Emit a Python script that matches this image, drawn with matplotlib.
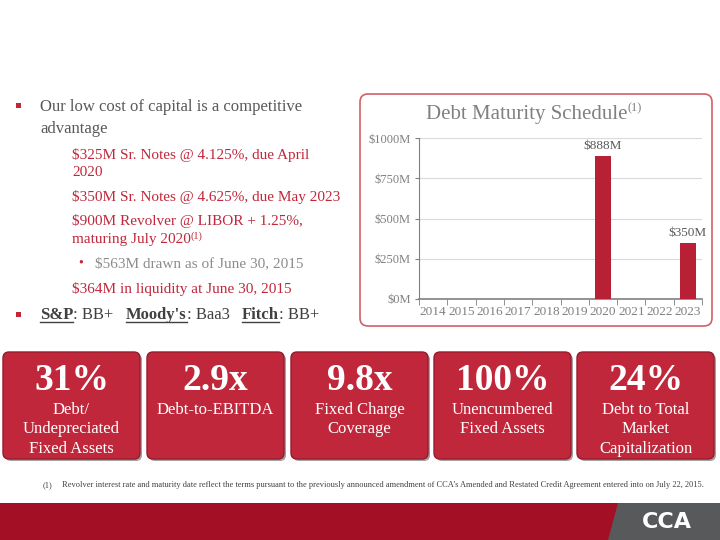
import matplotlib
matplotlib.use('Agg')
import matplotlib.pyplot as plt
from matplotlib.patches import Rectangle, FancyBboxPatch, Polygon
from matplotlib.lines import Line2D

plt.rcParams['font.family'] = ['Liberation Serif', 'DejaVu Serif']

# chart data
years = ['2014', '2015', '2016', '2017', '2018', '2019', '2020', '2021', '2022', '2023']
maturities = [0, 0, 0, 0, 0, 0, 888, 0, 0, 350]
y_ticks = [0, 250, 500, 750, 1000]

# metric boxes
box_values = ['31%', '2.9x', '9.8x', '100%', '24%']
box_labels = ['Debt/\nUndepreciated\nFixed Assets', 'Debt-to-EBITDA', 'Fixed Charge\nCoverage',
              'Unencumbered\nFixed Assets', 'Debt to Total\nMarket\nCapitalization']

RED = '#C0273B'
TXT_RED = '#C0273B'
GRAY = '#595959'

fig = plt.figure(figsize=(7.2, 5.4), dpi=100)
bg = fig.add_axes([0, 0, 1, 1])
bg.set_xlim(0, 720)
bg.set_ylim(540, 0)
bg.axis('off')

# bullets on the left
def square(x, y):
    bg.add_patch(Rectangle((x - 2.5, y - 2.5), 5, 5, color=RED, lw=0))

square(18, 105)
bg.text(40, 107, 'Our low cost of capital is a competitive', fontsize=12, color=GRAY, va='center')
bg.text(40, 129, 'advantage', fontsize=12, color=GRAY, va='center')
bg.text(72, 155, '$325M Sr. Notes @ 4.125%, due April', fontsize=11, color=TXT_RED, va='center')
bg.text(72, 172, '2020', fontsize=11, color=TXT_RED, va='center')
bg.text(72, 197, '$350M Sr. Notes @ 4.625%, due May 2023', fontsize=11, color=TXT_RED, va='center')
bg.text(72, 221, '$900M Revolver @ LIBOR + 1.25%,', fontsize=11, color=TXT_RED, va='center')
t = bg.text(72, 239, 'maturing July 2020', fontsize=11, color=TXT_RED, va='center')
bg.annotate('(1)', xy=(1, 0.75), xycoords=t, fontsize=7.5, color=TXT_RED, va='center', ha='left')
bg.text(78, 263, '\u2022', fontsize=10, color=RED, va='center')
bg.text(95, 264, '$563M drawn as of June 30, 2015', fontsize=11, color='#8C8C8C', va='center')
bg.text(72, 289, '$364M in liquidity at June 30, 2015', fontsize=11, color=TXT_RED, va='center')

square(18, 314)
parts = [('S&P', 'bold', True), (': BB+   ', 'normal', False), ("Moody's", 'bold', True),
         (': Baa3   ', 'normal', False), ('Fitch', 'bold', True), (': BB+', 'normal', False)]
prev = None
under = []
for s, w, u in parts:
    if prev is None:
        prev = bg.text(40, 315, s, fontsize=12, color='#404040', weight=w, va='center')
    else:
        prev = bg.annotate(s, xy=(1, 0), xycoords=prev, fontsize=12, color='#404040',
                           weight=w, va='bottom', ha='left')
    if u:
        under.append(prev)

# chart panel
bg.add_patch(FancyBboxPatch((360, 94), 352, 232, boxstyle='round,pad=0,rounding_size=8',
                            fc='white', ec='#D0606A', lw=1.2))
t = bg.text(527, 114, 'Debt Maturity Schedule', fontsize=15, color='#808080', ha='center', va='center')
bg.annotate('(1)', xy=(1, 0.8), xycoords=t, fontsize=9, color='#808080', va='center', ha='left')

# metric boxes
box_x = [3, 147, 291, 434, 577]
box_w = 137
for x, v, lab in zip(box_x, box_values, box_labels):
    bg.add_patch(FancyBboxPatch((x + 2, 354), box_w, 107, boxstyle='round,pad=0,rounding_size=6',
                                fc='#555555', ec='none', alpha=0.55))
    bg.add_patch(FancyBboxPatch((x, 352), box_w, 107, boxstyle='round,pad=0,rounding_size=6',
                                fc=RED, ec='#9A1A2B', lw=1))
    bg.text(x + box_w / 2, 380, v, fontsize=27, weight='bold', color='white', ha='center', va='center')
    bg.text(x + box_w / 2, 402, lab, fontsize=12, color='white', ha='center', va='top', linespacing=1.28)

# footnote
bg.text(43, 485, '(1)', fontsize=6, color='#404040', va='center')
bg.text(62, 485, "Revolver interest rate and maturity date reflect the terms pursuant to the previously announced "
        "amendment of CCA\u2019s Amended and Restated Credit Agreement entered into on July 22, 2015.",
        fontsize=6, color='#404040', va='center')

# bottom band
bg.add_patch(Rectangle((0, 503), 720, 37, color='#A30F25', lw=0))
bg.add_patch(Polygon([(618, 503), (720, 503), (720, 540), (608, 540)], closed=True, color='#58595B', lw=0))
bg.text(667, 522, 'CCA', fontsize=16, weight='black', color='white', ha='center', va='center',
        family='DejaVu Sans')

# bar chart
ax = fig.add_axes([419 / 720, 1 - 299 / 540, 283 / 720, 161 / 540])
ax.set_facecolor('none')
xs = list(range(len(years)))
ax.bar(xs, maturities, width=0.55, color='#B82035', zorder=3)
for x, v in zip(xs, maturities):
    if v > 0:
        ax.text(x, v + 25, f'${v}M', ha='center', va='bottom', fontsize=9.5, color='#595959')
ax.set_xlim(-0.5, len(years) - 0.5)
ax.set_ylim(0, 1000)
ax.set_yticks(y_ticks)
ax.set_yticklabels([f'${v}M' for v in y_ticks])
ax.set_xticks(xs)
ax.set_xticklabels(years)
ax.set_xticks([i - 0.5 for i in range(len(years) + 1)], minor=True)
ax.tick_params(axis='x', which='major', length=0, labelsize=9.5, labelcolor='#808080', pad=5)
ax.tick_params(axis='x', which='minor', length=4, direction='out', color='#808080')
ax.tick_params(axis='y', length=3, labelsize=9, labelcolor='#808080', color='#808080', pad=3)
ax.yaxis.grid(True, color='#D9D9D9', lw=0.8, zorder=0)
for s in ['top', 'right']:
    ax.spines[s].set_visible(False)
ax.spines['left'].set_color('#808080')
ax.spines['bottom'].set_color('#808080')
ax.spines['bottom'].set_linewidth(1.2)

# underlines for rating agencies
fig.canvas.draw()
r = fig.canvas.get_renderer()
inv = bg.transData.inverted()
for txt in under:
    bb = txt.get_window_extent(r)
    (x0, y0), (x1, _) = inv.transform([(bb.x0, bb.y0), (bb.x1, bb.y1)])
    bg.add_line(Line2D([x0, x1], [y0 - 1.5, y0 - 1.5], color='#404040', lw=1))

fig.savefig('out.png', dpi=100)
